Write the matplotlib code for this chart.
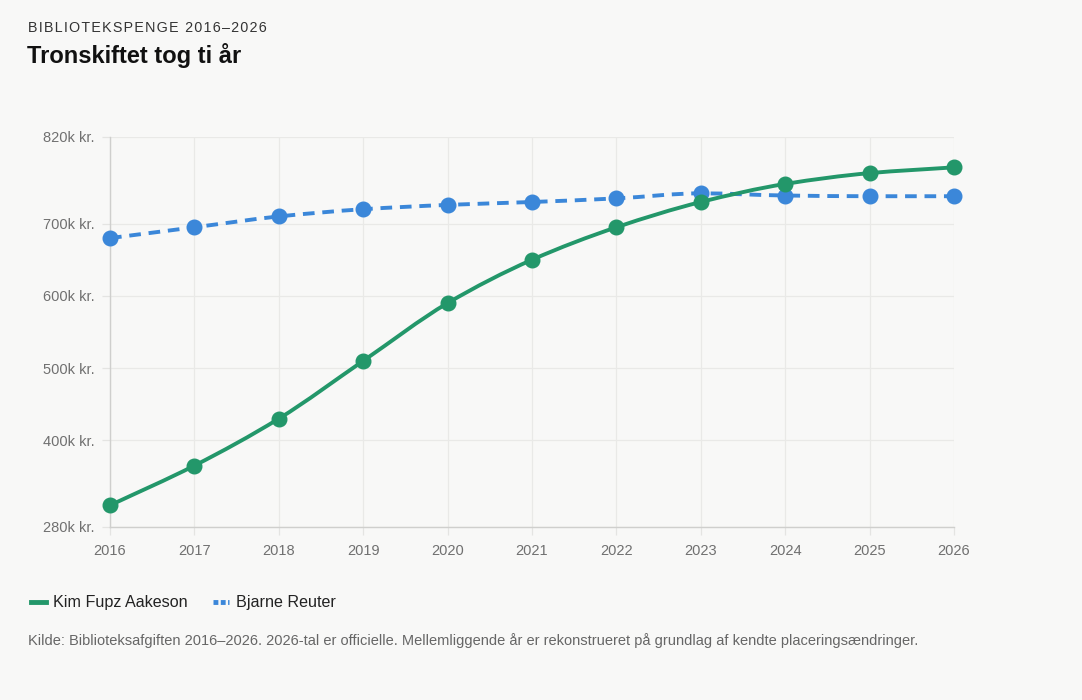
import matplotlib
matplotlib.use("Agg")
import matplotlib.pyplot as plt
import numpy as np
from matplotlib.path import Path
from matplotlib.patches import PathPatch
from matplotlib.lines import Line2D

plt.rcParams['font.family'] = ['Liberation Sans', 'DejaVu Sans']

years = [2016, 2017, 2018, 2019, 2020, 2021, 2022, 2023, 2024, 2025, 2026]
kim = [310, 365, 430, 510, 590, 650, 695, 730, 755, 770, 778]
bjarne = [680, 695, 710, 720, 726, 730, 735, 742, 739, 738, 738]
series_names = ["Kim Fupz Aakeson", "Bjarne Reuter"]
yticks = [280, 400, 500, 600, 700, 820]

GREEN = "#23976a"
BLUE = "#3b87d9"
BG = "#f8f8f7"

def smooth_path(xs, ys):
    xs = np.asarray(xs, float); ys = np.asarray(ys, float)
    n = len(xs)
    d = np.diff(ys) / np.diff(xs)
    m = np.zeros(n)
    m[0] = d[0]; m[-1] = d[-1]
    for i in range(1, n - 1):
        if d[i - 1] * d[i] <= 0:
            m[i] = 0
        else:
            m[i] = 2 / (1 / d[i - 1] + 1 / d[i])
    verts = [(xs[0], ys[0])]
    codes = [Path.MOVETO]
    for i in range(n - 1):
        h = xs[i + 1] - xs[i]
        verts += [(xs[i] + h / 3, ys[i] + m[i] * h / 3),
                  (xs[i + 1] - h / 3, ys[i + 1] - m[i + 1] * h / 3),
                  (xs[i + 1], ys[i + 1])]
        codes += [Path.CURVE4] * 3
    return Path(verts, codes)

fig = plt.figure(figsize=(10.82, 7.0), dpi=100, facecolor=BG)
ax = fig.add_axes([110 / 1082, 1 - 527 / 700, 844 / 1082, 390 / 700])
ax.set_facecolor(BG)

ax.add_patch(PathPatch(smooth_path(years, bjarne), fill=False, edgecolor=BLUE,
                       lw=2.8, linestyle=(0, (3.0, 2.0)), capstyle='butt',
                       zorder=3, clip_on=False))
ax.plot(years, bjarne, 'o', color=BLUE, ms=10.5, zorder=4, clip_on=False)
ax.add_patch(PathPatch(smooth_path(years, kim), fill=False, edgecolor=GREEN,
                       lw=2.8, zorder=5, clip_on=False))
ax.plot(years, kim, 'o', color=GREEN, ms=10.5, zorder=6, clip_on=False)

ax.set_xlim(2016, 2026)
ax.set_ylim(280, 820)
ax.set_xticks(years)
ax.set_xticklabels([str(y) for y in years])
ax.set_yticks(yticks)
ax.set_yticklabels([f"{v}k kr." for v in yticks])
ax.grid(True, color="#e9e9e7", lw=0.9, zorder=0)
ax.tick_params(axis='both', colors="#e4e4e2", length=6, width=0.9,
               labelcolor="#707070", labelsize=10.5)
ax.tick_params(axis='y', pad=5)
ax.tick_params(axis='x', pad=6)
for s in ['top', 'right']:
    ax.spines[s].set_visible(False)
for s in ['left', 'bottom']:
    ax.spines[s].set_color("#cfcfcd")
    ax.spines[s].set_linewidth(1.0)
ax.set_axisbelow(True)

sub = "\u200a".join("BIBLIOTEKSPENGE 2016–2026")
fig.text(28 / 1082, 1 - 28 / 700, sub, fontsize=10.3,
         color="#333333", va='center', ha='left',
         family=['Liberation Sans', 'DejaVu Sans'])
fig.text(27 / 1082, 1 - 56 / 700, "Tronskiftet tog ti år", fontsize=17,
         fontweight='bold', color="#111111", va='center', ha='left')

handles = [Line2D([], [], color=GREEN, lw=3.5),
           Line2D([], [], color=BLUE, lw=3.5, linestyle=(0, (1.0, 0.5)))]
fig.legend(handles, series_names, loc='center left',
           bbox_to_anchor=(16 / 1082, 1 - 603 / 700), frameon=False,
           ncol=2, fontsize=11.6, handlelength=0.95, handletextpad=0.45,
           columnspacing=1.6, labelcolor="#222222")

fig.text(28 / 1082, 1 - 641 / 700,
         "Kilde: Biblioteksafgiften 2016–2026. 2026-tal er officielle. Mellemliggende år er rekonstrueret på grundlag af kendte placeringsændringer.",
         fontsize=10.5, color="#666666", va='center', ha='left')

fig.savefig("out.png", dpi=100, facecolor=BG)
